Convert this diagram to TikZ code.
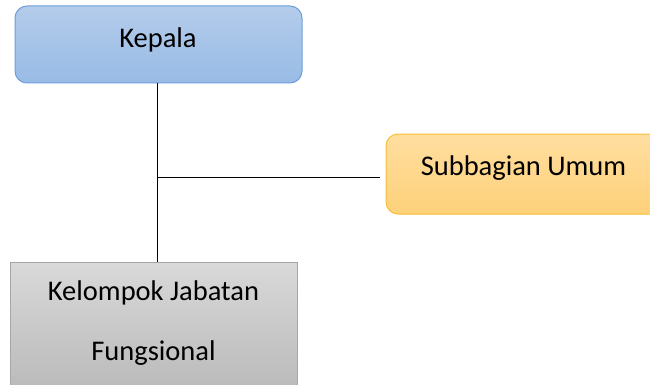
\documentclass[tikz,border=0pt]{standalone}
\usepackage{fontspec}
\setmainfont{Carlito}
\definecolor{kepTop}{HTML}{B4CCEB}
\definecolor{kepBot}{HTML}{98BBE5}
\definecolor{kepLine}{HTML}{6D9FD9}
\definecolor{subTop}{HTML}{FFDEA0}
\definecolor{subBot}{HTML}{FED17A}
\definecolor{subLine}{HTML}{F8C032}
\definecolor{kelTop}{HTML}{D9D9D9}
\definecolor{kelBot}{HTML}{BABABA}
\definecolor{kelLine}{HTML}{A6A6A6}
\begin{document}
\begin{tikzpicture}[x=1pt,y=-1pt,
  box/.style={draw, line width=1pt, inner sep=0pt, outer sep=0pt},
  lbl/.style={anchor=base, inner sep=0pt, font=\fontsize{28.5}{34}\selectfont},
  conn/.style={draw=black, line width=1pt}]
\useasboundingbox (0,0) rectangle (650,385);
\node[box, rounded corners=12pt, draw=kepLine, top color=kepTop, bottom color=kepBot,
  minimum width=287pt, minimum height=77pt] (kepala) at (158.5,44.5) {};
\node[box, rounded corners=12pt, draw=subLine, top color=subTop, bottom color=subBot,
  minimum width=287pt, minimum height=80pt] (sub) at (529.5,174) {};
\node[box, draw=kelLine, top color=kelTop, bottom color=kelBot,
  minimum width=287pt, minimum height=128pt] (kel) at (153.5,326) {};
\node[lbl] (tkep) at (158,48) {Kepala};
\node[lbl] (tsub) at (523.5,175) {Subbagian Umum};
\node[lbl] (tkel1) at (153.5,300) {Kelompok Jabatan};
\node[lbl] (tkel2) at (153.5,360) {Fungsional};
\coordinate (j) at (157.5,177);
\draw[conn] (j |- kepala.south) -- (j |- kel.north);
\draw[conn] (j) -- ([xshift=-6pt]sub.west |- j);
\end{tikzpicture}
\end{document}
